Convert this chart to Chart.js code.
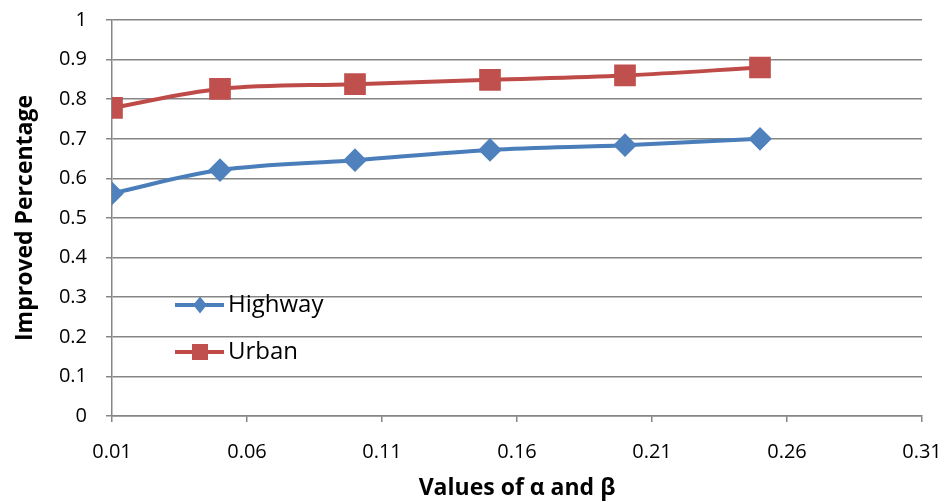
<!DOCTYPE html>
<html>
<head>
<meta charset="utf-8">
<script src="https://cdn.jsdelivr.net/npm/chart.js@4.4.1/dist/chart.umd.min.js"></script>
<style>
  html, body { margin: 0; padding: 0; background: #ffffff; }
  #wrap { width: 948px; height: 502px; }
</style>
</head>
<body>
<div id="wrap"><canvas id="c" width="948" height="502"></canvas></div>
<script>
// Parameter values (alpha = beta) and improvement ratios per scenario
const paramValues = [0.01, 0.05, 0.10, 0.15, 0.20, 0.25];
const highway = [0.562, 0.621, 0.646, 0.672, 0.684, 0.700];
const urban   = [0.778, 0.826, 0.838, 0.849, 0.860, 0.880];
const xTicks = [0.01, 0.06, 0.11, 0.16, 0.21, 0.26, 0.31];
const yTicks = [0, 0.1, 0.2, 0.3, 0.4, 0.5, 0.6, 0.7, 0.8, 0.9, 1];
const seriesNames = ['Highway', 'Urban'];

const FONT = '"Open Sans", Lato, sans-serif';
const toPoints = vals => vals.map((v, i) => ({ x: paramValues[i], y: v }));

// Legend drawn inside the plot area, lower left
const innerLegend = {
  id: 'innerLegend',
  afterDraw(chart) {
    const ctx = chart.ctx;
    const rows = [305, 352];
    chart.data.datasets.forEach((ds, i) => {
      const y = rows[i];
      ctx.save();
      ctx.strokeStyle = ds.borderColor;
      ctx.lineWidth = ds.borderWidth;
      ctx.beginPath();
      ctx.moveTo(175, y);
      ctx.lineTo(224, y);
      ctx.stroke();
      ctx.fillStyle = ds.pointBackgroundColor;
      ctx.beginPath();
      if (ds.pointStyle === 'rect') {
        const s = 8;
        ctx.rect(200 - s, y - s, 2 * s, 2 * s);
      } else {
        const r = 8.5;
        ctx.moveTo(200, y - r); ctx.lineTo(200 + r * 0.8, y);
        ctx.lineTo(200, y + r); ctx.lineTo(200 - r * 0.8, y);
        ctx.closePath();
      }
      ctx.fill();
      ctx.fillStyle = '#000000';
      ctx.font = '24px ' + FONT;
      ctx.textBaseline = 'middle';
      ctx.textAlign = 'left';
      ctx.fillText(ds.label, 228, y);
      ctx.restore();
    });
  }
};

new Chart(document.getElementById('c'), {
  type: 'line',
  data: {
    datasets: [
      {
        label: seriesNames[0],
        data: toPoints(highway),
        borderColor: '#4A7EBB',
        backgroundColor: '#4F81BD',
        pointBackgroundColor: '#4F81BD',
        pointBorderColor: '#4F81BD',
        borderWidth: 4,
        pointStyle: 'rectRot',
        pointRadius: 9,
        pointHoverRadius: 9,
        tension: 0.35
      },
      {
        label: seriesNames[1],
        data: toPoints(urban),
        borderColor: '#BE4B48',
        backgroundColor: '#C0504D',
        pointBackgroundColor: '#C0504D',
        pointBorderColor: '#C0504D',
        borderWidth: 4,
        pointStyle: 'rect',
        pointRadius: 12.5,
        pointHoverRadius: 12.5,
        tension: 0.35
      }
    ]
  },
  options: {
    responsive: false,
    animation: false,
    layout: { padding: { top: 20, right: 26, left: 0, bottom: 0 } },
    plugins: { legend: { display: false }, tooltip: { enabled: false } },
    scales: {
      x: {
        type: 'linear',
        min: 0.01,
        max: 0.31,
        afterBuildTicks: s => { s.ticks = xTicks.map(v => ({ value: v })); },
        afterFit: s => { s.height = 86; s.paddingLeft = 0; s.paddingRight = 0; },
        ticks: {
          color: '#000000',
          font: { family: FONT, size: 20 },
          padding: 18,
          maxRotation: 0,
          callback: v => String(Math.round(v * 100) / 100)
        },
        grid: { drawOnChartArea: false, drawTicks: true, tickLength: 6, color: '#868686', lineWidth: 1.5 },
        border: { color: '#868686', width: 1.5 },
        title: {
          display: true,
          text: 'Values of α and β',
          color: '#000000',
          font: { family: FONT, size: 23, weight: 'bold' },
          padding: { top: 6, bottom: 0 }
        }
      },
      y: {
        type: 'linear',
        min: 0,
        max: 1,
        afterBuildTicks: s => { s.ticks = yTicks.map(v => ({ value: v })); },
        afterFit: s => { s.width = 112; s.paddingTop = 0; s.paddingBottom = 0; },
        ticks: {
          color: '#000000',
          font: { family: FONT, size: 20 },
          padding: 19,
          callback: v => String(Math.round(v * 10) / 10)
        },
        grid: { color: '#868686', lineWidth: 1.5, drawTicks: true, tickLength: 6 },
        border: { color: '#868686', width: 1.5 },
        title: {
          display: true,
          text: 'Improved Percentage',
          color: '#000000',
          font: { family: FONT, size: 23, weight: 'bold' },
          padding: { top: 12, bottom: 0 }
        }
      }
    }
  },
  plugins: [innerLegend]
});
</script>
</body>
</html>
